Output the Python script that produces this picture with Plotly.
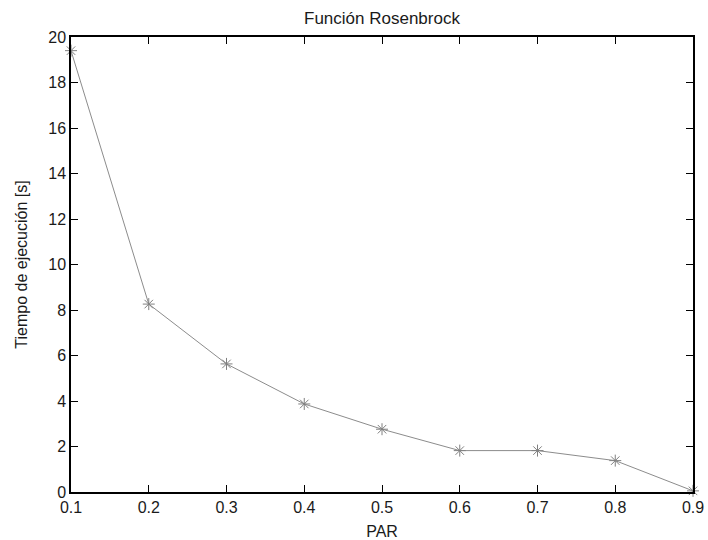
import plotly.graph_objects as go

# Execution time of the Rosenbrock function versus PAR
par = [0.1, 0.2, 0.3, 0.4, 0.5, 0.6, 0.7, 0.8, 0.9]
tiempo = [19.4, 8.26, 5.63, 3.87, 2.76, 1.82, 1.82, 1.38, 0.05]

x_ticks = [0.1, 0.2, 0.3, 0.4, 0.5, 0.6, 0.7, 0.8, 0.9]
y_ticks = [0, 2, 4, 6, 8, 10, 12, 14, 16, 18, 20]

font_family = "Liberation Sans, Arial, sans-serif"
text_color = "#1a1a1a"
gray = "#808080"

fig = go.Figure()
fig.add_trace(go.Scatter(
    x=par, y=tiempo, mode="lines+markers",
    line=dict(color="#8c8c8c", width=1),
    marker=dict(symbol="asterisk-open", size=10, color=gray,
                line=dict(color=gray, width=1)),
    cliponaxis=False, showlegend=False,
))

axis_common = dict(
    showline=True, linecolor="black", linewidth=1.5, mirror="ticks",
    ticks="inside", ticklen=7, tickwidth=1.3, tickcolor="black",
    showgrid=False, zeroline=False, automargin=False,
    tickfont=dict(family=font_family, size=16, color=text_color),
)

fig.update_layout(
    width=708, height=540,
    margin=dict(l=71, r=15, t=37, b=48),
    paper_bgcolor="white", plot_bgcolor="white",
    title=dict(text="Función Rosenbrock", x=0.5, xref="paper",
               y=1 - 18 / 540, yref="container", yanchor="middle",
               xanchor="center", automargin=False,
               font=dict(family=font_family, size=17, color=text_color)),
    xaxis=dict(range=[0.1, 0.9], tickvals=x_ticks,
               ticktext=[f"{v:g}" for v in x_ticks],
               title=dict(text="PAR", standoff=11,
                          font=dict(family=font_family, size=16, color=text_color)),
               **axis_common),
    yaxis=dict(range=[0, 20], tickvals=y_ticks,
               title=dict(text="Tiempo de ejecución [s]", standoff=17,
                          font=dict(family=font_family, size=16, color=text_color)),
               **axis_common),
)

fig.write_html("out.html")
